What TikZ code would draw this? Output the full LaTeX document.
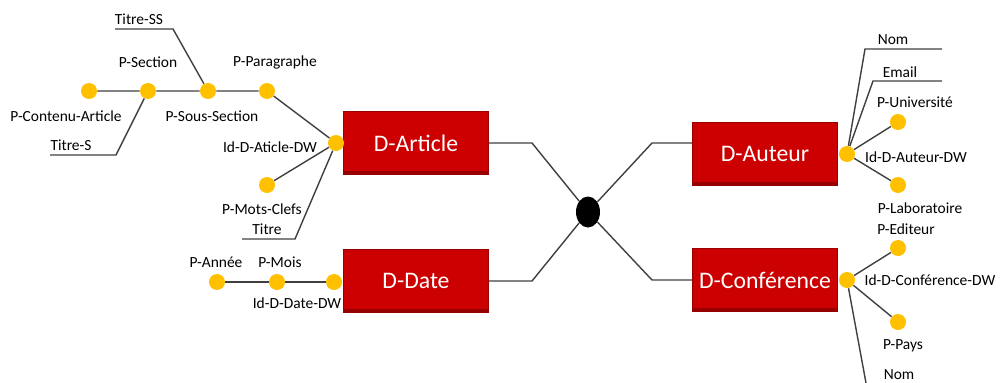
\documentclass[tikz,border=0pt]{standalone}
\usepackage{fontspec}
\setmainfont{Carlito}
\usetikzlibrary{shapes.geometric}

\definecolor{boxred}{RGB}{204,0,0}
\definecolor{boxedge}{RGB}{150,0,0}
\definecolor{dotyellow}{RGB}{255,192,0}
\definecolor{linegray}{RGB}{64,64,64}

\begin{document}
\begin{tikzpicture}[
    x=0.2mm, y=-0.2mm,
    dimbox/.style={rectangle, minimum width=29mm, minimum height=12.6mm, fill=boxred, draw=boxedge, line width=0.8pt,
        text=white, font=\fontsize{13.5}{16}\selectfont,
        path picture={\fill[boxedge] (path picture bounding box.south west) rectangle ([yshift=0.7mm]path picture bounding box.south east);}},
    attr/.style={circle, minimum size=3.2mm, inner sep=0pt, fill=dotyellow},
    hubnode/.style={ellipse, minimum width=4.8mm, minimum height=6.2mm, inner sep=0pt, fill=black},
    lbl/.style={font=\fontsize{8.8}{10}\selectfont, inner sep=1pt, text=black},
    link/.style={draw=linegray, line width=0.8pt}
]
    \useasboundingbox (0,0) rectangle (1000,383);

    % dimensions and the hub
    \node[dimbox] at (416,143) (art) {D-Article};
    \node[dimbox] at (416,281) (date) {D-Date};
    \node[dimbox] at (765,154) (aut) {D-Auteur};
    \node[dimbox] at (765,280) (conf) {D-Conférence};
    \node[hubnode] at (588,212) (hub) {};

    \coordinate (c1) at (532,143);
    \coordinate (c2) at (532,281);
    \coordinate (c3) at (652,143);
    \coordinate (c4) at (652,280);
    \draw[link] (art) -- (c1) -- (hub);
    \draw[link] (date) -- (c2) -- (hub);
    \draw[link] (hub) -- (c3) -- (c3 -| aut.west);
    \draw[link] (hub) -- (c4) -- (conf);

    % D-Article
    \node[attr] at (89,91) (contenu) {};
    \node[attr] at (148,91) (section) {};
    \node[attr] at (208,91) (ssection) {};
    \node[attr] at (267,91) (parag) {};
    \node[attr] at (336,143) (idart) {};
    \node[attr] at (267,185) (mots) {};
    \draw[link] (contenu) -- (section) -- (ssection) -- (parag) -- (idart);
    \draw[link] (idart) -- (mots);
    \coordinate (ts1) at (116,155);
    \coordinate (ts2) at (50,155);
    \draw[link] (section) -- (ts1) -- (ts2);
    \coordinate (tss1) at (173,29);
    \coordinate (tss2) at (115,29);
    \draw[link] (ssection) -- (tss1) -- (tss2);
    \coordinate (t1) at (295,239);
    \coordinate (t2) at (242,239);
    \draw[link] (idart) -- (t1) -- (t2);

    \node[lbl] at (139,19) (ltss) {Titre-SS};
    \node[lbl] at (148,62) (lsection) {P-Section};
    \node[lbl] at (275,62) (lparag) {P-Paragraphe};
    \node[lbl] at (66,116) (lcontenu) {P-Contenu-Article};
    \node[lbl] at (212,116) (lssection) {P-Sous-Section};
    \node[lbl] at (71,145) (lts) {Titre-S};
    \node[lbl] at (270,147) (lidart) {Id-D-Aticle-DW};
    \node[lbl] at (262,209) (lmots) {P-Mots-Clefs};
    \node[lbl] at (267,229) (ltitre) {Titre};

    % D-Date
    \node[attr] at (217,282) (annee) {};
    \node[attr] at (277,282) (mois) {};
    \node[attr] at (334,282) (iddate) {};
    \draw[link] (annee) -- (mois) -- (iddate);
    \node[lbl] at (216,262) (lannee) {P-Année};
    \node[lbl] at (280,262) (lmois) {P-Mois};
    \node[lbl] at (297,303) (liddate) {Id-D-Date-DW};

    % D-Auteur
    \node[attr] at (847,154) (idaut) {};
    \node[attr] at (898,122) (univ) {};
    \node[attr] at (898,185) (labo) {};
    \draw[link] (idaut) -- (univ);
    \draw[link] (idaut) -- (labo);
    \coordinate (an1) at (865,49);
    \coordinate (an2) at (942,49);
    \coordinate (ae1) at (873,81);
    \coordinate (ae2) at (942,81);
    \draw[link] (idaut) -- (an1) -- (an2);
    \draw[link] (idaut) -- (ae1) -- (ae2);
    \node[lbl] at (893,40) (lnom) {Nom};
    \node[lbl] at (900,72) (lemail) {Email};
    \node[lbl] at (915,102) (luniv) {P-Université};
    \node[lbl] at (916,157) (lidaut) {Id-D-Auteur-DW};
    \node[lbl] at (920,208) (llabo) {P-Laboratoire};

    % D-Conférence
    \node[attr] at (847,280) (idconf) {};
    \node[attr] at (898,248) (edit) {};
    \node[attr] at (898,322) (pays) {};
    \draw[link] (idconf) -- (edit);
    \draw[link] (idconf) -- (pays);
    \coordinate (cn1) at (866,383);
    \draw[link] (idconf) -- (cn1);
    \node[lbl] at (906,229) (ledit) {P-Editeur};
    \node[lbl] at (930,280) (lidconf) {Id-D-Conférence-DW};
    \node[lbl] at (903,346) (lpays) {P-Pays};
    \node[lbl] at (899,375) (lnomconf) {Nom};
\end{tikzpicture}
\end{document}
